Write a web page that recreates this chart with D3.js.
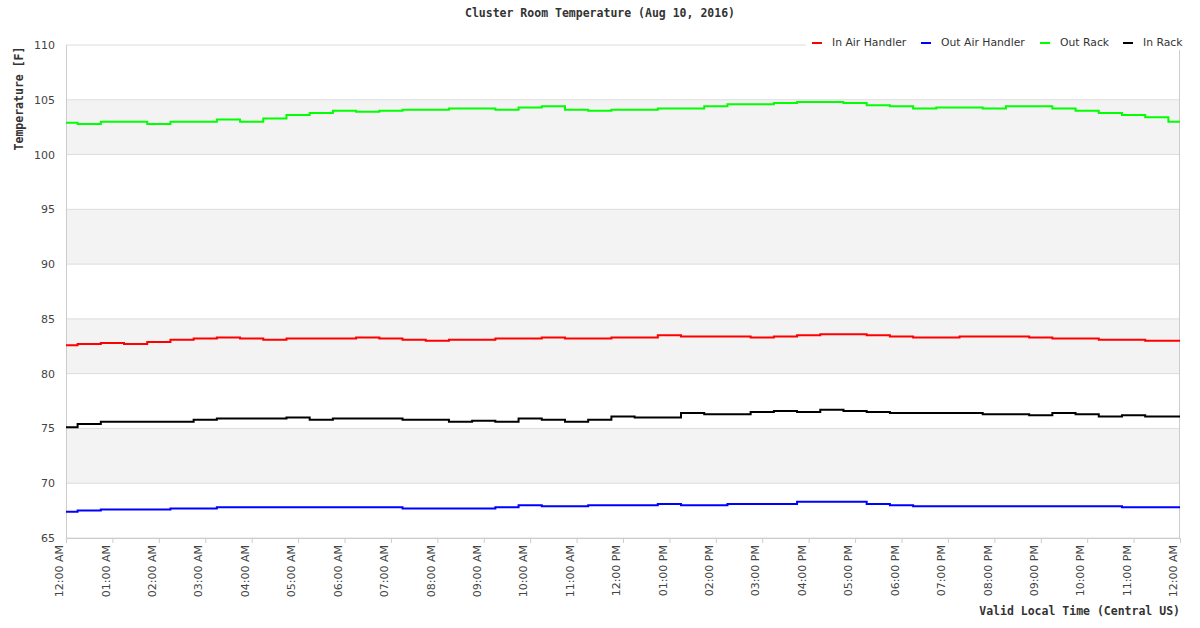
<!DOCTYPE html><html><head><meta charset="utf-8"><script src="https://cdn.jsdelivr.net/npm/d3@7"></script>
<style>body{margin:0;background:#fff}</style></head><body><svg id="c" width="1200" height="628"></svg><script>
const hours=d3.range(0,24.5,0.5);
const inAir=[82.6,82.7,82.8,82.7,82.9,83.1,83.2,83.3,83.2,83.1,83.2,83.2,83.2,83.3,83.2,83.1,83.0,83.1,83.1,83.2,83.2,83.3,83.2,83.2,83.3,83.3,83.5,83.4,83.4,83.4,83.3,83.4,83.5,83.6,83.6,83.5,83.4,83.3,83.3,83.4,83.4,83.4,83.3,83.2,83.2,83.1,83.1,83.0,83.0];
const outAir=[67.4,67.5,67.6,67.6,67.6,67.7,67.7,67.8,67.8,67.8,67.8,67.8,67.8,67.8,67.8,67.7,67.7,67.7,67.7,67.8,68.0,67.9,67.9,68.0,68.0,68.0,68.1,68.0,68.0,68.1,68.1,68.1,68.3,68.3,68.3,68.1,68.0,67.9,67.9,67.9,67.9,67.9,67.9,67.9,67.9,67.9,67.8,67.8,67.8];
const outRack=[102.9,102.8,103.0,103.0,102.8,103.0,103.0,103.2,103.0,103.3,103.6,103.8,104.0,103.9,104.0,104.1,104.1,104.2,104.2,104.1,104.3,104.4,104.1,104.0,104.1,104.1,104.2,104.2,104.4,104.6,104.6,104.7,104.8,104.8,104.7,104.5,104.4,104.2,104.3,104.3,104.2,104.4,104.4,104.2,104.0,103.8,103.6,103.4,103.0];
const inRack=[75.1,75.4,75.6,75.6,75.6,75.6,75.8,75.9,75.9,75.9,76.0,75.8,75.9,75.9,75.9,75.8,75.8,75.6,75.7,75.6,75.9,75.8,75.6,75.8,76.1,76.0,76.0,76.4,76.3,76.3,76.5,76.6,76.5,76.7,76.6,76.5,76.4,76.4,76.4,76.4,76.3,76.3,76.2,76.4,76.3,76.1,76.2,76.1,76.1];
const seriesNames=["In Air Handler","Out Air Handler","Out Rack","In Rack"];
const colors=["#ff0000","#0000ff","#00ff00","#000000"];
const xLabels=["12:00 AM","01:00 AM","02:00 AM","03:00 AM","04:00 AM","05:00 AM","06:00 AM","07:00 AM","08:00 AM","09:00 AM","10:00 AM","11:00 AM","12:00 PM","01:00 PM","02:00 PM","03:00 PM","04:00 PM","05:00 PM","06:00 PM","07:00 PM","08:00 PM","09:00 PM","10:00 PM","11:00 PM","12:00 AM"];
const yTicks=[65,70,75,80,85,90,95,100,105,110];
const all=[inAir,outAir,outRack,inRack];
const svg=d3.select("#c"),L=66,R=1180,T=45,B=538;
const x=d3.scaleLinear().domain([0,24]).range([L,R]);
const y=d3.scaleLinear().domain([65,110]).range([B,T]);
for(let i=0;i<yTicks.length-1;i++){if(i%2===1)svg.append("rect").attr("x",L).attr("width",R-L).attr("y",y(yTicks[i+1])).attr("height",y(yTicks[i])-y(yTicks[i+1])).attr("fill","#f3f3f3");}
svg.append("g").selectAll("line").data(yTicks).join("line").attr("x1",L).attr("x2",R).attr("y1",d=>y(d)).attr("y2",d=>y(d)).attr("stroke","#dcdcdc");
svg.append("line").attr("x1",L+0.5).attr("x2",L+0.5).attr("y1",T).attr("y2",B).attr("stroke","#ccc");
svg.append("line").attr("x1",R-0.5).attr("x2",R-0.5).attr("y1",T).attr("y2",B).attr("stroke","#ccc");
const ya=svg.append("g").attr("transform",`translate(${L-8},0)`).call(d3.axisLeft(y).tickValues(yTicks).tickSize(0));
ya.select(".domain").remove();ya.selectAll("text").attr("font-family","DejaVu Sans").attr("font-size",11).attr("fill","#444");
const xa=svg.append("g").attr("transform",`translate(0,${B})`).call(d3.axisBottom(x).tickValues(d3.range(25)).tickFormat(i=>xLabels[i]).tickSize(5));
xa.select(".domain").attr("stroke","#ccc");xa.selectAll("line").attr("stroke","#ccc");
xa.selectAll("text").attr("font-family","DejaVu Sans").attr("font-size",11).attr("fill","#444").attr("transform","rotate(-90)").attr("text-anchor","end").attr("dx","-7").attr("dy","-0.3em").attr("x",0).attr("y",0);
const line=d3.line().x((d,i)=>x(hours[i])).y(d=>y(d)).curve(d3.curveStep);
all.forEach((s,k)=>svg.append("path").attr("d",line(s)).attr("fill","none").attr("stroke",colors[k]).attr("stroke-width",2));
svg.append("text").attr("x",600).attr("y",17).attr("text-anchor","middle").attr("font-family","DejaVu Sans Mono").attr("font-weight","bold").attr("font-size",11.5).attr("fill","#333").text("Cluster Room Temperature (Aug 10, 2016)");
svg.append("text").attr("transform",`translate(23,${(T+B)/2-193}) rotate(-90)`).attr("text-anchor","middle").attr("font-family","DejaVu Sans Mono").attr("font-weight","bold").attr("font-size",11.5).attr("fill","#333").text("Temperature [F]");
svg.append("text").attr("x",1180).attr("y",615).attr("text-anchor","end").attr("font-family","DejaVu Sans Mono").attr("font-weight","bold").attr("font-size",11.5).attr("fill","#333").text("Valid Local Time (Central US)");
const lg=svg.append("g");lg.append("rect").attr("x",806).attr("y",34).attr("width",376).attr("height",16).attr("fill","#fff");
const lx=[812,921,1040,1123];
seriesNames.forEach((n,k)=>{lg.append("line").attr("x1",lx[k]).attr("x2",lx[k]+10).attr("y1",43).attr("y2",43).attr("stroke",colors[k]).attr("stroke-width",2);
lg.append("text").attr("x",lx[k]+20).attr("y",46).attr("font-family","DejaVu Sans").attr("font-size",10.8).attr("fill","#333").text(n);});
</script></body></html>
